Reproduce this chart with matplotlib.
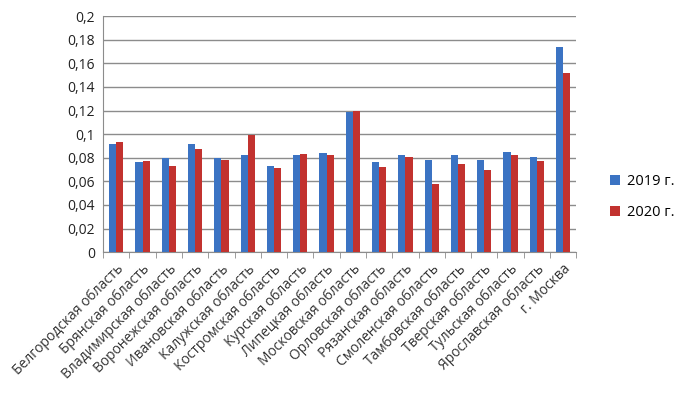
import matplotlib
matplotlib.use("Agg")
import matplotlib.pyplot as plt
import numpy as np
from matplotlib.ticker import FuncFormatter, MultipleLocator

plt.rcParams['font.family'] = ['Open Sans', 'DejaVu Sans']

regions = ["Белгородская область", "Брянская область", "Владимирская область",
           "Воронежская область", "Ивановская область", "Калужская область",
           "Костромская область", "Курская область", "Липецкая область",
           "Московская область", "Орловская область", "Рязанская область",
           "Смоленская область", "Тамбовская область", "Тверская область",
           "Тульская область", "Ярославская область", "г. Москва"]
v2019 = [0.092, 0.076, 0.080, 0.092, 0.080, 0.082, 0.073, 0.082, 0.084, 0.119,
         0.076, 0.082, 0.078, 0.082, 0.078, 0.085, 0.081, 0.1735]
v2020 = [0.093, 0.077, 0.073, 0.087, 0.078, 0.099, 0.071, 0.083, 0.082, 0.120,
         0.072, 0.081, 0.058, 0.075, 0.070, 0.082, 0.077, 0.1515]
series_labels = ["2019 г.", "2020 г."]

fig = plt.figure(figsize=(6.74, 3.94), dpi=100)
ax = fig.add_axes([0.153, 0.360, 0.702, 0.599])

x = np.arange(len(regions))
w = 0.27
ax.bar(x - w/2, v2019, width=w, color='#3B73C3', label=series_labels[0], zorder=3)
ax.bar(x + w/2, v2020, width=w, color='#C2322F', label=series_labels[1], zorder=3)

ax.set_xlim(-0.5, len(regions) - 0.5)
ax.set_ylim(0, 0.2)
ax.yaxis.set_major_locator(MultipleLocator(0.02))

def fmt(v, pos):
    s = ('%.2f' % v).rstrip('0').rstrip('.')
    return s.replace('.', ',')
ax.yaxis.set_major_formatter(FuncFormatter(fmt))
ax.grid(axis='y', color='#8C8C8C', linewidth=1.0, zorder=0)
ax.tick_params(axis='y', length=0, labelsize=10, pad=6, colors='#222222')

ax.set_xticks(x)
ax.set_xticklabels(regions, rotation=45, ha='right', rotation_mode='anchor',
                   fontsize=10, color='#333333')
ax.set_xticks(np.arange(len(regions) + 1) - 0.5, minor=True)
ax.tick_params(axis='x', which='major', length=0, pad=7)
ax.tick_params(axis='x', which='minor', length=4, color='#8C8C8C', direction='out')

for s in ['top', 'right']:
    ax.spines[s].set_visible(False)
ax.spines['left'].set_color('#8C8C8C')
ax.spines['bottom'].set_color('#8C8C8C')

fig.legend(loc='center left', bbox_to_anchor=(0.885, 0.50), frameon=False,
           fontsize=10.5, handlelength=0.7, handleheight=0.7, labelspacing=1.1,
           handletextpad=0.5)

fig.savefig("out.png", dpi=100)
